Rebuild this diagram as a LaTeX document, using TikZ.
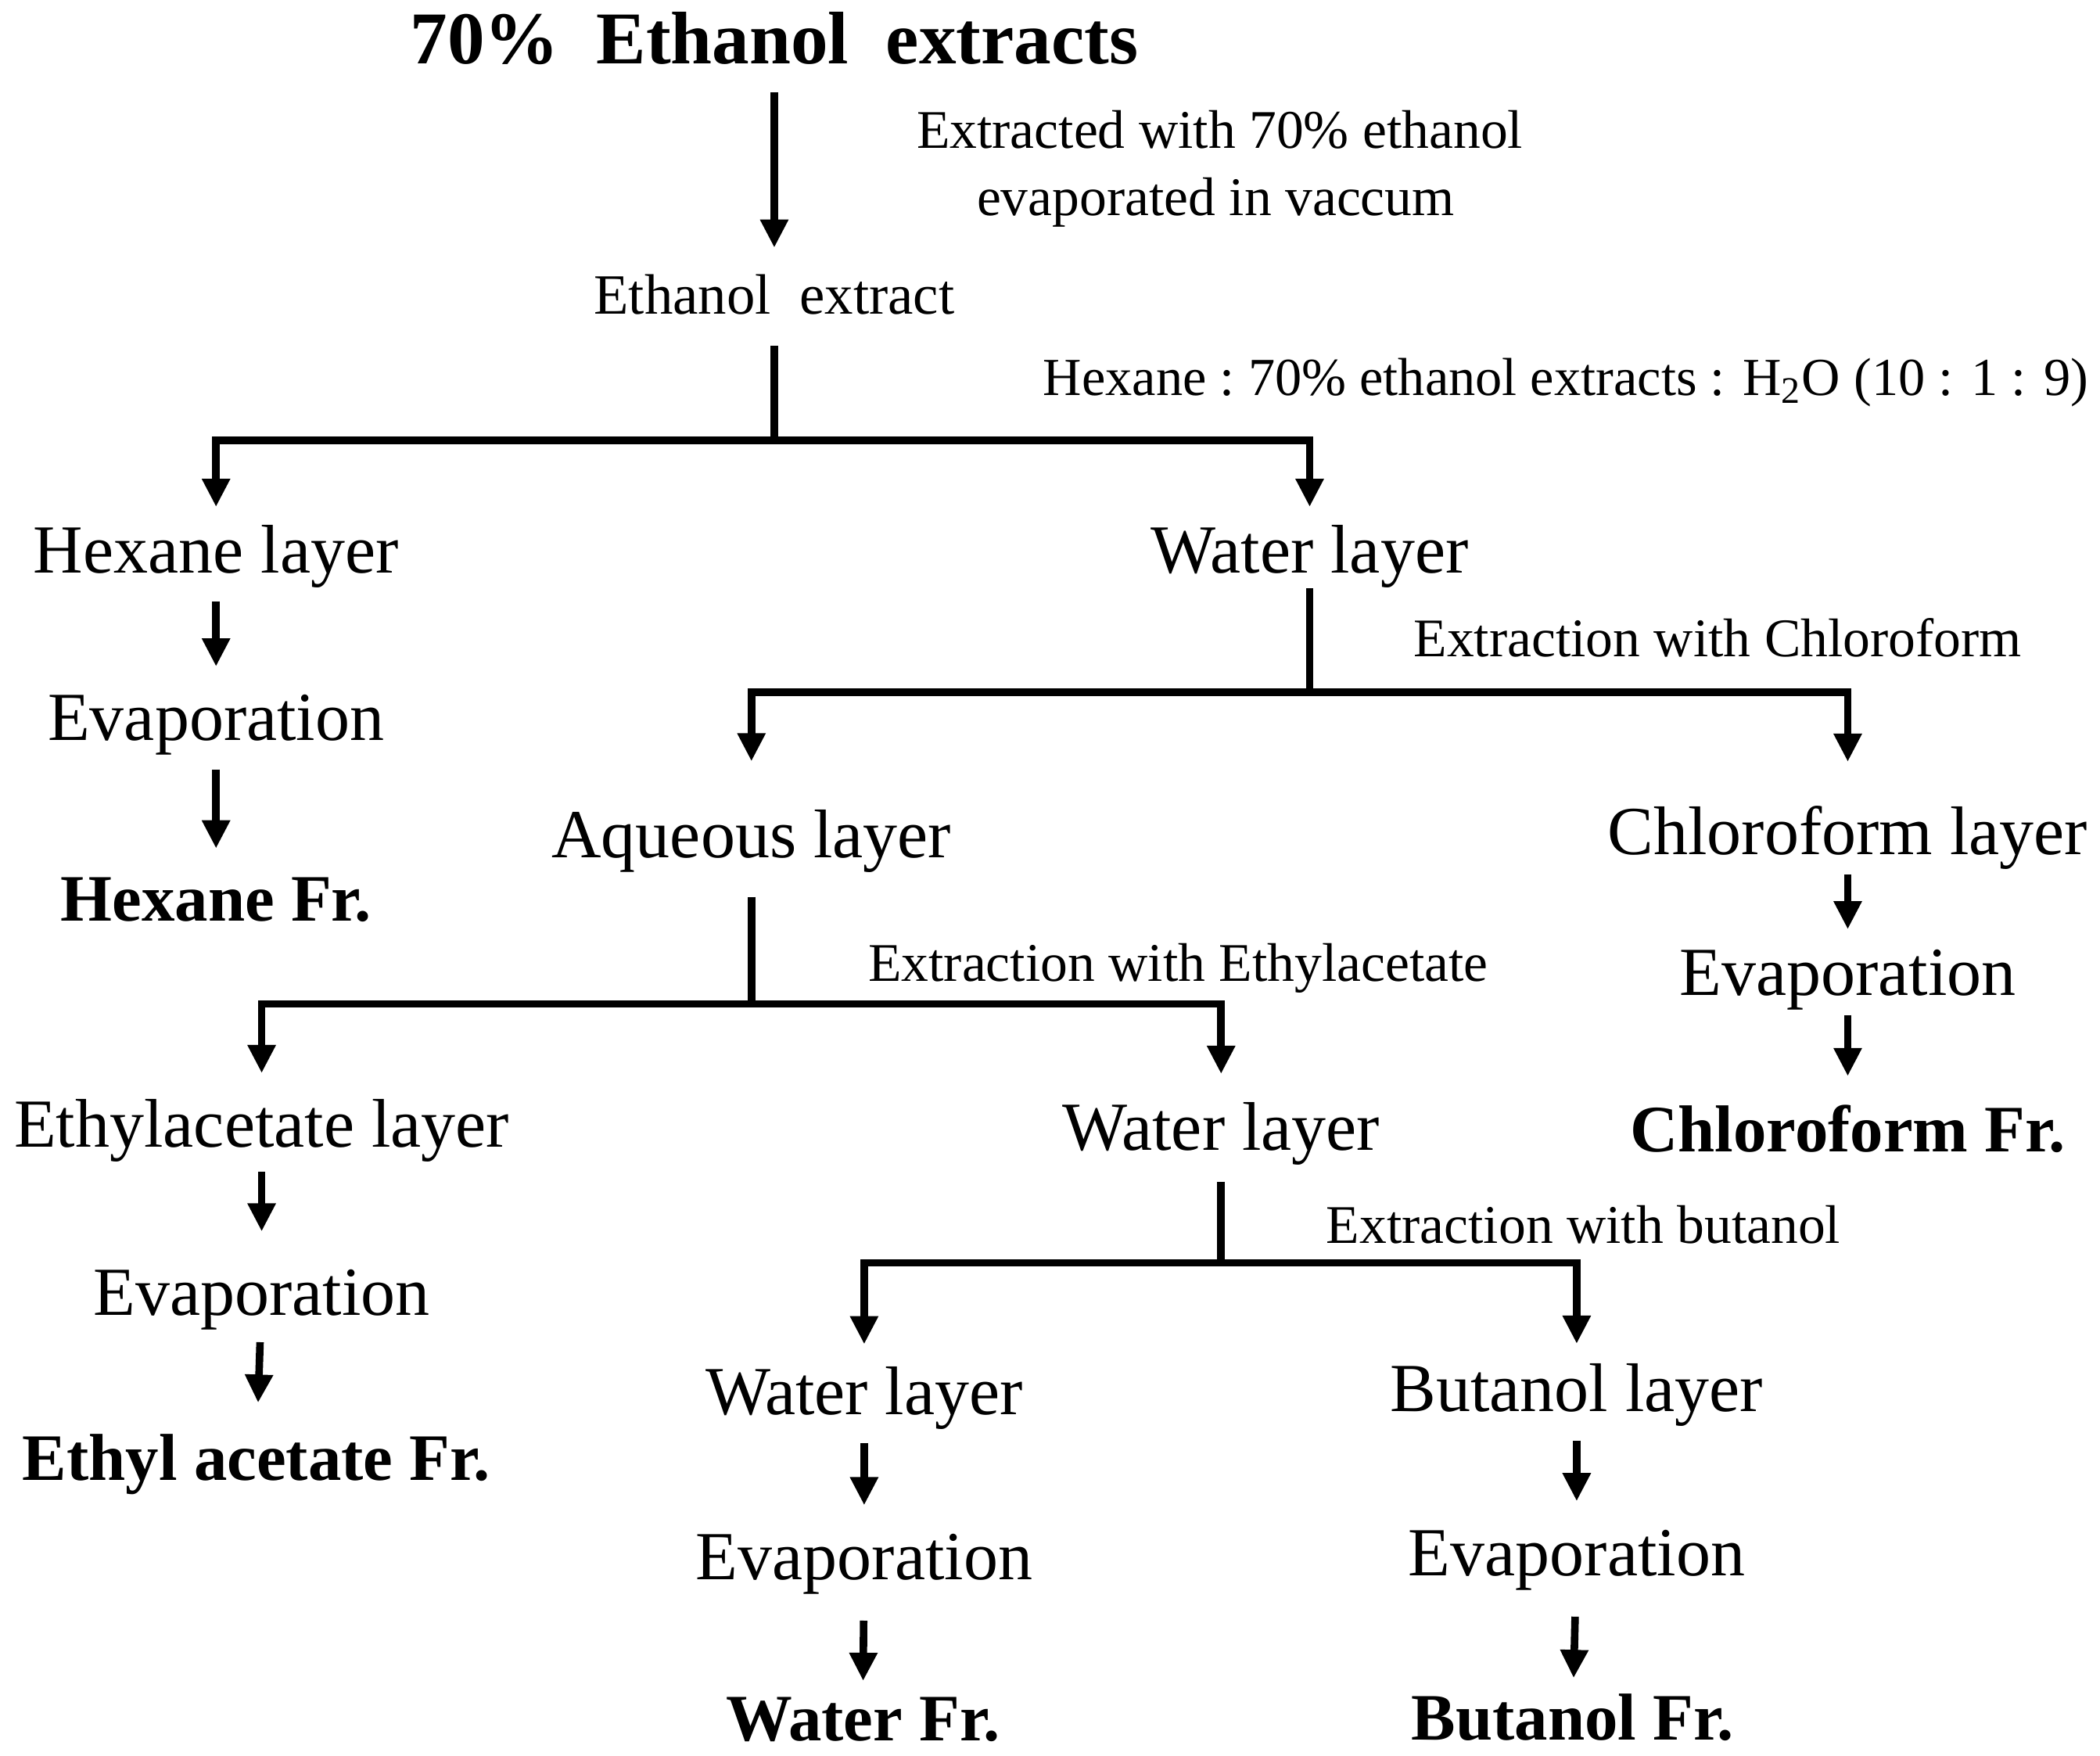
\documentclass[tikz,border=0pt]{standalone}
\usepackage{fontspec}
\setmainfont{Liberation Serif}
\usetikzlibrary{positioning,calc,arrows.meta}

\begin{document}
\begin{tikzpicture}[x=0.4289pt,y=-0.4289pt,
  every node/.style={inner sep=0pt,text depth=0pt},
  big/.style={font=\fontsize{22}{24}\selectfont,text height=14.5pt},
  fr/.style={font=\fontsize{21.2}{23}\selectfont\bfseries,text height=14pt},
  note/.style={font=\fontsize{17.4}{19}\selectfont,text height=11.5pt},
  line/.style={line width=2.4pt},
  arr/.style={line width=2.4pt,-{Triangle[width=8.5pt,length=9pt]},shorten <=9pt,shorten >=9pt}]
  \useasboundingbox (0,0) rectangle (1565,1308);

  % top of the scheme
  \node[font=\fontsize{23.8}{26}\selectfont\bfseries,text height=15.7pt] at (577,29) (top) {70\%\ \ Ethanol\ \ extracts};
  \node[font=\fontsize{18.2}{20}\selectfont,text height=12pt] at (577,220) (ethx) {Ethanol\ \ extract};
  \node[note] at (909,97)  (n1) {Extracted with 70\% ethanol};
  \node[note] at (906,147) (n2) {evaporated in vaccum};
  \node[note,font=\fontsize{17.1}{19}\selectfont] at (1167,281) (n3) {Hexane :\ 70\% ethanol extracts : H\textsubscript{2}O (10 : 1 : 9)};
  \draw[arr] (top) -- (ethx);

  % hexane / water
  \coordinate (b1) at (577,328);
  \node[big] at (161,410) (hexl) {Hexane layer};
  \node[big] at (976,410) (watl) {Water layer};
  \node[big] at (161,535) (evh) {Evaporation};
  \node[fr]  at (161,670) (hexf) {Hexane Fr.};
  \draw[line,shorten <=10pt] (ethx) -- (b1);
  \draw[arr,shorten <=0pt,shorten >=6.4pt] (b1) -| (hexl);
  \draw[arr,shorten <=0pt,shorten >=6.4pt] (b1) -| (watl);
  \draw[arr] (hexl) -- (evh);
  \draw[arr] (evh) -- (hexf);

  % chloroform
  \coordinate (b2) at (976,516);
  \node[note] at (1280,476) (n4) {Extraction with Chloroform};
  \node[big] at (560,622)  (aql) {Aqueous layer};
  \node[big] at (1377,620) (chll) {Chloroform layer};
  \node[big] at (1377,725) (evc) {Evaporation};
  \node[fr]  at (1377,842) (chlf) {Chloroform Fr.};
  \draw[line,shorten <=4.7pt] (watl) -- (b2);
  \draw[arr,shorten <=0pt,shorten >=16pt] (b2) -| (aql);
  \draw[arr,shorten <=0pt,shorten >=15pt] (b2) -| (chll);
  \draw[arr,shorten <=6pt,shorten >=6.5pt] (chll) -- (evc);
  \draw[arr,shorten <=6pt,shorten >=10pt] (evc) -- (chlf);

  % ethylacetate
  \coordinate (b3) at (560,748);
  \node[note] at (878,718) (n5) {Extraction with Ethylacetate};
  \node[big] at (195,838)  (etal) {Ethylacetate layer};
  \node[big] at (910,840)  (watl2) {Water layer};
  \node[big] at (195,963)  (eve) {Evaporation};
  \node[fr]  at (191,1087) (etaf) {Ethyl acetate Fr.};
  \draw[line,shorten <=12.4pt] (aql) -- (b3);
  \draw[arr,shorten <=0pt,shorten >=9pt] (b3) -| (etal);
  \draw[arr,shorten <=0pt,shorten >=9.6pt] (b3) -| (watl2);
  \draw[arr,shorten <=7.7pt,shorten >=12pt] (etal) -- (eve);
  \draw[arr,shorten <=8.5pt,shorten >=10.7pt] (eve) -- (etaf);

  % butanol
  \coordinate (b4) at (910,941);
  \node[note] at (1180,913) (n6) {Extraction with butanol};
  \node[big] at (644,1037)  (watl3) {Water layer};
  \node[big] at (1175,1035) (bul) {Butanol layer};
  \node[big] at (644,1160)  (evw) {Evaporation};
  \node[fr]  at (643,1281)  (watf) {Water Fr.};
  \node[big] at (1175,1157) (evb) {Evaporation};
  \node[fr]  at (1172,1280) (buf) {Butanol Fr.};
  \draw[line,shorten <=9.9pt] (watl2) -- (b4);
  \draw[arr,shorten <=0pt,shorten >=7.7pt] (b4) -| (watl3);
  \draw[arr,shorten <=0pt,shorten >=7pt] (b4) -| (bul);
  \draw[arr] (watl3) -- (evw);
  \draw[arr,shorten <=13pt,shorten >=5pt] (evw) -- (watf);
  \draw[arr] (bul) -- (evb);
  \draw[arr,shorten <=13pt,shorten >=5.5pt] (evb) -- (buf);
\end{tikzpicture}
\end{document}
